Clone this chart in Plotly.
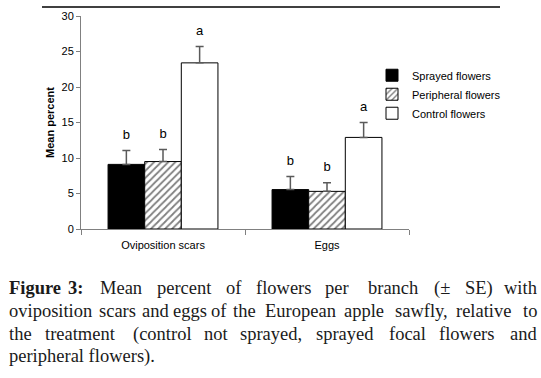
import plotly.graph_objects as go

categories = ["Oviposition scars", "Eggs"]
series_names = ["Sprayed flowers", "Peripheral flowers", "Control flowers"]
sprayed = [9.1, 5.55]
peripheral = [9.5, 5.3]
control = [23.4, 12.9]
sprayed_se = [1.95, 1.85]
peripheral_se = [1.7, 1.2]
control_se = [2.3, 2.1]
sprayed_letters = ["b", "b"]
peripheral_letters = ["b", "b"]
control_letters = ["a", "a"]
y_ticks = [0, 5, 10, 15, 20, 25, 30]

W, H = 541, 378
L, R, T, B = 81, 132, 10, 149
PW = W - L - R
PH = H - T - B

def px_x(px):
    return (px - L) / PW

def px_y(py):
    return (H - B - py) / PH

fig = go.Figure()
styles = [
    dict(color="black", pattern=dict(shape="")),
    dict(color="white", pattern=dict(shape="/", fgcolor="black", bgcolor="white", size=5, solidity=0.35, fillmode="overlay")),
    dict(color="white", pattern=dict(shape="")),
]
values = [sprayed, peripheral, control]
ses = [sprayed_se, peripheral_se, control_se]
letters = [sprayed_letters, peripheral_letters, control_letters]
for i, name in enumerate(series_names):
    fig.add_trace(go.Bar(
        x=categories, y=values[i], name=name, offsetgroup=str(i),
        marker=dict(color=styles[i]["color"], pattern=styles[i]["pattern"],
                    line=dict(color="black", width=1)),
        error_y=dict(type="data", symmetric=False, array=ses[i],
                     arrayminus=[0] * len(categories), color="#5a5a5a",
                     thickness=1.5, width=4),
    ))
for i, name in enumerate(series_names):
    fig.add_trace(go.Scatter(
        x=categories, y=[v + s for v, s in zip(values[i], ses[i])],
        mode="markers+text", text=letters[i], textposition="top center",
        marker=dict(size=12, opacity=0),
        textfont=dict(family="Liberation Sans, Arial", size=13, color="black"),
        offsetgroup=str(i), showlegend=False, hoverinfo="skip", cliponaxis=False,
    ))

fig.update_layout(
    width=W, height=H, margin=dict(l=L, r=R, t=T, b=B),
    paper_bgcolor="white", plot_bgcolor="white",
    barmode="group", bargap=0.33, bargroupgap=0,
    scattermode="group", scattergap=0.33,
    font=dict(family="Liberation Sans, Arial", size=11, color="black"),
    legend=dict(x=px_x(372), y=px_y(56), xanchor="left", yanchor="top",
                bgcolor="rgba(0,0,0,0)", font=dict(size=11),
                itemwidth=30, tracegroupgap=0),
    showlegend=True,
)
fig.update_yaxes(range=[0, 30], tickvals=y_ticks, showgrid=False, zeroline=False,
                 showline=True, linecolor="#808080", linewidth=1,
                 ticks="outside", ticklen=4, tickcolor="#808080",
                 tickfont=dict(size=11),
                 title=dict(text="<b>Mean percent</b>", font=dict(size=11), standoff=4))
fig.update_xaxes(showgrid=False, showline=True, linecolor="#808080", linewidth=1,
                 ticks="outside", ticklen=5, tickcolor="#808080", tickson="boundaries",
                 tickfont=dict(size=11), ticklabelstandoff=6)

# top rule
fig.add_shape(type="line", xref="paper", yref="paper",
              x0=px_x(42), x1=px_x(500), y0=px_y(0.8), y1=px_y(0.8),
              line=dict(color="black", width=1.6))

cap_font = dict(family="Liberation Serif, Times New Roman", size=18.5, color="#1a1a1a")
LEFT, RIGHT = 7, 539

def word_line(words, py):
    n = len(words)
    for j, (w, x) in enumerate(words):
        if j == 0:
            xa, xp = "left", LEFT
        elif j == n - 1:
            xa, xp = "right", RIGHT
        else:
            xa, xp = "center", x
        fig.add_annotation(xref="paper", yref="paper", x=px_x(xp), y=px_y(py),
                           xanchor=xa, yanchor="middle",
                           text=w, showarrow=False, font=cap_font)

line1 = [("<b>Figure</b>", 0), ("<b>3:</b>", 75), ("Mean", 121), ("percent", 184.5), ("of", 234),
         ("flowers", 283.5), ("per", 336.5), ("branch", 392.5), ("(±", 442), ("SE)", 479), ("with", 0)]
line2 = [("oviposition", 0), ("scars", 117.5), ("and", 155), ("eggs", 190), ("of", 219), ("the", 244),
         ("European", 300), ("apple", 364), ("sawfly,", 421), ("relative", 483), ("to", 0)]
line3 = [("the", 0), ("treatment", 80), ("(control", 162.5), ("not", 216.5), ("sprayed,", 270.5),
         ("sprayed", 345), ("focal", 407.5), ("flowers", 466.5), ("and", 0)]
word_line(line1, 290)
word_line(line2, 313)
word_line(line3, 337)
fig.add_annotation(xref="paper", yref="paper", x=px_x(LEFT), y=px_y(360), xanchor="left",
                   yanchor="middle", showarrow=False, font=cap_font,
                   text="peripheral flowers).")

fig.write_html("out.html", config={"displayModeBar": False},
               post_script="document.body.style.margin='0';document.body.style.padding='0';")
